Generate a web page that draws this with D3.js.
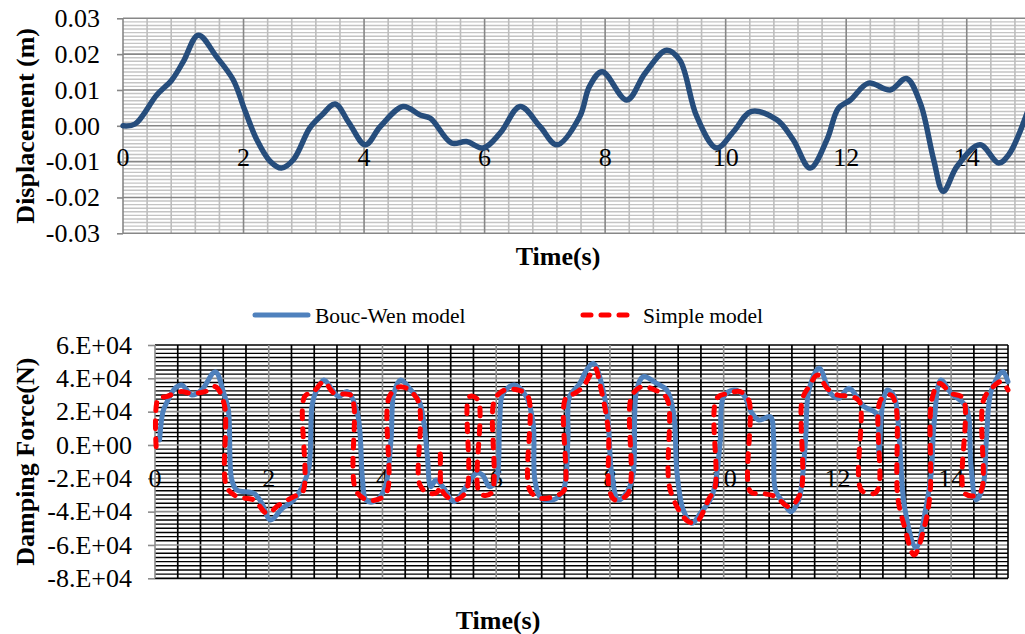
<!DOCTYPE html>
<html>
<head>
<meta charset="utf-8">
<script src="https://cdn.jsdelivr.net/npm/d3@7"></script>
<style>
  body { margin: 0; background: #fff; }
  svg { display: block; }
  svg text { font-family: 'Liberation Serif', 'Times New Roman', serif; }
</style>
</head>
<body>
<div id="graphic"></div>
<script>
'use strict';

// displacement record (s, m)
const dispTime = [0, 0.2, 0.56, 0.81, 1.0, 1.25, 1.55, 1.83, 2.02, 2.22, 2.44, 2.63, 2.83, 3.1, 3.3, 3.52, 3.75, 4.02, 4.27, 4.65, 4.93, 5.1, 5.45, 5.7, 5.98, 6.26, 6.59, 6.92, 7.2, 7.58, 7.74, 7.95, 8.36, 8.66, 9.02, 9.24, 9.52, 9.85, 10.13, 10.43, 10.85, 11.12, 11.4, 11.68, 11.87, 12.07, 12.37, 12.73, 13.0, 13.23, 13.45, 13.61, 13.84, 14.22, 14.53, 14.7, 15.0];
const dispValue = [0, 0.0005, 0.0086, 0.0128, 0.0179, 0.0253, 0.0193, 0.0128, 0.0044, -0.0039, -0.0099, -0.0118, -0.0094, -0.0006, 0.003, 0.0061, 0.0008, -0.0053, -0.0002, 0.0054, 0.003, 0.0021, -0.0048, -0.0044, -0.0062, -0.002, 0.0054, -0.0002, -0.0053, 0.0026, 0.011, 0.0151, 0.0072, 0.0146, 0.0211, 0.0183, 0.0026, -0.0062, -0.0016, 0.004, 0.0017, -0.0039, -0.0118, -0.0039, 0.0049, 0.0072, 0.0119, 0.01, 0.0132, 0.0063, -0.0094, -0.0183, -0.0113, -0.0053, -0.0104, -0.008, 0.0035];

// damping force, Bouc-Wen model (s, N)
const boucWenTime = [0.08, 0.14, 0.2, 0.35, 0.47, 0.65, 0.82, 1.06, 1.21, 1.29, 1.35, 1.44, 1.74, 1.88, 2.03, 2.24, 2.44, 2.62, 2.71, 2.76, 2.82, 2.97, 3.12, 3.23, 3.38, 3.56, 3.65, 3.71, 3.85, 4.03, 4.15, 4.2, 4.32, 4.5, 4.65, 4.73, 4.79, 4.85, 4.94, 5.06, 5.26, 5.47, 5.65, 5.76, 5.88, 6.0, 6.06, 6.12, 6.32, 6.53, 6.65, 6.68, 6.79, 7.0, 7.18, 7.26, 7.29, 7.47, 7.59, 7.71, 7.88, 7.97, 8.03, 8.15, 8.32, 8.41, 8.47, 8.59, 8.82, 9.0, 9.12, 9.18, 9.29, 9.44, 9.59, 9.79, 9.88, 9.94, 10.0, 10.18, 10.35, 10.5, 10.62, 10.82, 10.88, 10.91, 11.06, 11.18, 11.32, 11.38, 11.44, 11.5, 11.68, 11.88, 12.03, 12.2, 12.47, 12.68, 12.73, 12.79, 12.88, 13.0, 13.09, 13.18, 13.38, 13.56, 13.65, 13.7, 13.82, 14.0, 14.26, 14.35, 14.44, 14.56, 14.62, 14.71, 14.91, 15.0];
const boucWenForce = [0.3e4, 2.0e4, 2.5e4, 3.4e4, 3.6e4, 3.0e4, 3.3e4, 4.4e4, 3.1e4, 2.1e4, -2.1e4, -2.7e4, -2.9e4, -3.5e4, -4.5e4, -3.8e4, -3.3e4, -2.3e4, -1.3e4, 2.3e4, 3.1e4, 3.9e4, 3.3e4, 2.9e4, 3.2e4, 1.9e4, -2.1e4, -3.3e4, -3.4e4, -2.7e4, 0.3e4, 3.1e4, 3.9e4, 3.3e4, 2.6e4, 1.3e4, -0.7e4, -2.5e4, -2.1e4, -2.5e4, -3.4e4, -2.5e4, -1.7e4, -1.8e4, -2.5e4, -2.1e4, 1.3e4, 3.1e4, 3.6e4, 2.9e4, 1.3e4, -2.1e4, -3.2e4, -3.3e4, -2.7e4, 0.3e4, 2.9e4, 3.7e4, 4.5e4, 4.9e4, 3.3e4, 1.3e4, -1.7e4, -3.3e4, -2.7e4, -1.7e4, 3.3e4, 4.1e4, 3.7e4, 3.3e4, 1.9e4, -1.7e4, -3.9e4, -4.7e4, -4.1e4, -3.1e4, -1.7e4, 0.3e4, 2.9e4, 3.3e4, 3.0e4, 1.9e4, 1.5e4, 1.7e4, 0.3e4, -2.7e4, -3.5e4, -4.0e4, -3.3e4, -2.1e4, 0.3e4, 3.3e4, 4.6e4, 3.1e4, 2.8e4, 3.4e4, 2.3e4, 1.9e4, -0.6e4, 2.3e4, 3.3e4, 2.9e4, 0.3e4, -3.7e4, -6.2e4, -3.7e4, -1.7e4, 1.3e4, 3.9e4, 3.1e4, 2.3e4, -1.3e4, -3.3e4, -2.5e4, 0.3e4, 3.3e4, 4.4e4, 3.8e4];

// damping force, simple model (s, N)
const simpleTime = [0.02, 0.06, 0.2, 0.44, 0.65, 0.88, 1.06, 1.22, 1.26, 1.44, 1.74, 1.97, 2.18, 2.44, 2.6, 2.63, 2.79, 2.97, 3.15, 3.44, 3.5, 3.53, 3.73, 3.97, 4.09, 4.12, 4.32, 4.62, 4.66, 4.82, 4.97, 5.02, 5.06, 5.26, 5.47, 5.53, 5.68, 5.71, 5.91, 5.97, 6.15, 6.38, 6.56, 6.59, 6.79, 7.09, 7.2, 7.22, 7.38, 7.53, 7.74, 7.82, 7.97, 7.99, 8.09, 8.32, 8.38, 8.56, 8.79, 9.0, 9.06, 9.38, 9.53, 9.73, 9.85, 9.88, 10.09, 10.29, 10.44, 10.47, 10.68, 10.91, 11.15, 11.35, 11.38, 11.5, 11.65, 11.82, 12.0, 12.26, 12.39, 12.42, 12.65, 12.73, 12.76, 12.94, 13.03, 13.06, 13.18, 13.35, 13.53, 13.63, 13.66, 13.79, 14.0, 14.21, 14.24, 14.47, 14.55, 14.57, 14.74, 14.88, 15.0];
const simpleForce = [-0.1e4, 2.8e4, 2.9e4, 3.2e4, 3.1e4, 3.2e4, 3.5e4, 2.4e4, -2.5e4, -3.1e4, -3.3e4, -4.1e4, -3.6e4, -3.1e4, -2.8e4, 2.9e4, 3.2e4, 3.8e4, 3.1e4, 3.0e4, 2.3e4, -2.7e4, -3.3e4, -3.2e4, -2.7e4, 2.9e4, 3.5e4, 2.7e4, -2.4e4, -2.9e4, -2.8e4, -0.3e4, -2.8e4, -3.3e4, -2.8e4, 2.9e4, 2.7e4, -2.9e4, -2.9e4, 2.7e4, 3.3e4, 3.3e4, 2.9e4, -2.7e4, -3.2e4, -3.0e4, -2.7e4, 2.8e4, 3.1e4, 3.5e4, 4.6e4, 3.7e4, 0.9e4, -2.7e4, -3.3e4, -2.9e4, 2.9e4, 3.5e4, 3.3e4, 2.8e4, -2.7e4, -4.6e4, -4.6e4, -3.3e4, -2.5e4, 2.8e4, 3.1e4, 3.2e4, 2.7e4, -2.8e4, -2.9e4, -3.1e4, -3.7e4, -2.9e4, 2.7e4, 3.5e4, 4.2e4, 3.4e4, 3.0e4, 2.9e4, 2.6e4, -2.7e4, -2.9e4, -2.5e4, 2.7e4, 3.0e4, 2.3e4, -3.1e4, -4.9e4, -6.6e4, -4.9e4, -2.9e4, 2.7e4, 3.7e4, 3.1e4, 2.8e4, -2.9e4, -3.0e4, -2.5e4, 2.7e4, 3.5e4, 3.8e4, 3.3e4];

// ticks
const timeTicks = [0, 2, 4, 6, 8, 10, 12, 14];
const dispTicks = [-0.03, -0.02, -0.01, 0, 0.01, 0.02, 0.03];
const forceTicks = [-8e4, -6e4, -4e4, -2e4, 0, 2e4, 4e4, 6e4];
const forceTickLabels = [`-8.E+04`, `-6.E+04`, `-4.E+04`, `-2.E+04`, `0.E+00`, `2.E+04`, `4.E+04`, `6.E+04`];
const seriesNames = [`Bouc-Wen model`, `Simple model`];

(function (d3) {
  const width = 1025;
  const height = 634;

  const svg = d3.select(`#graphic`).append(`svg`).attr(`width`, width).attr(`height`, height);

  const tickFont = 26;
  const titleFont = 26;

  // ---------- top: displacement ----------
  const x0 = d3.scaleLinear().domain([0, 15]).range([123, 1027]);
  const y0 = d3.scaleLinear().domain([-0.03, 0.03]).range([233.3, 18.3]);

  const g0 = svg.append(`g`);

  // minor grid
  g0.append(`g`)
    .attr(`stroke`, `#c4c4c4`)
    .attr(`stroke-width`, 1.4)
    .selectAll(`line.h`)
    .data(d3.range(-30, 31).filter((i) => i % 10 !== 0).map((i) => i / 1000))
    .join(`line`)
    .attr(`x1`, x0(0))
    .attr(`x2`, x0(15))
    .attr(`y1`, (d) => y0(d))
    .attr(`y2`, (d) => y0(d));
  g0.append(`g`)
    .attr(`stroke`, `#bdbdbd`)
    .attr(`stroke-width`, 1.6)
    .selectAll(`line`)
    .data(d3.range(1, 38).filter((i) => i % 5 !== 0).map((i) => i * 0.4))
    .join(`line`)
    .attr(`x1`, (d) => x0(d))
    .attr(`x2`, (d) => x0(d))
    .attr(`y1`, y0(0.03))
    .attr(`y2`, y0(-0.03));

  // major grid
  g0.append(`g`)
    .attr(`stroke`, `#878787`)
    .attr(`stroke-width`, 1.6)
    .selectAll(`line`)
    .data(dispTicks)
    .join(`line`)
    .attr(`x1`, x0(0))
    .attr(`x2`, x0(15))
    .attr(`y1`, (d) => y0(d))
    .attr(`y2`, (d) => y0(d));
  g0.append(`g`)
    .attr(`stroke`, `#878787`)
    .attr(`stroke-width`, 1.6)
    .selectAll(`line`)
    .data(timeTicks)
    .join(`line`)
    .attr(`x1`, (d) => x0(d))
    .attr(`x2`, (d) => x0(d))
    .attr(`y1`, y0(0.03))
    .attr(`y2`, y0(-0.03));

  // y axis
  g0.append(`g`)
    .attr(`transform`, `translate(${x0(0)},0)`)
    .call(d3.axisLeft(y0).tickValues(dispTicks).tickFormat((d) => d.toFixed(2)).tickSize(6).tickPadding(17))
    .call((g) => g.attr(`font-family`, null).attr(`font-size`, tickFont))
    .call((g) => g.select(`.domain`).remove())
    .call((g) => g.selectAll(`line`).attr(`stroke`, `#878787`).attr(`stroke-width`, 1.6))
    .call((g) => g.selectAll(`text`).attr(`fill`, `#000`));

  // x tick labels sit below the zero line
  g0.append(`g`)
    .attr(`font-size`, tickFont)
    .attr(`text-anchor`, `middle`)
    .selectAll(`text`)
    .data(timeTicks)
    .join(`text`)
    .attr(`x`, (d) => x0(d))
    .attr(`y`, y0(0) + 31)
    .attr(`dy`, `0.35em`)
    .text((d) => d);

  g0.append(`path`)
    .datum(dispTime.map((t, i) => [t, dispValue[i]]))
    .attr(`fill`, `none`)
    .attr(`stroke`, `#264d7c`)
    .attr(`stroke-width`, 5.5)
    .attr(`stroke-linejoin`, `round`)
    .attr(`stroke-linecap`, `round`)
    .attr(
      `d`,
      d3
        .line()
        .x((d) => x0(d[0]))
        .y((d) => y0(d[1]))
        .curve(d3.curveCatmullRom.alpha(0.5))
    );

  g0.append(`text`)
    .attr(`transform`, `translate(25,${y0(0)}) rotate(-90)`)
    .attr(`text-anchor`, `middle`)
    .attr(`dy`, `0.35em`)
    .attr(`font-size`, titleFont)
    .attr(`font-weight`, `bold`)
    .text(`Displacement (m)`);

  g0.append(`text`)
    .attr(`x`, 558)
    .attr(`y`, 256)
    .attr(`dy`, `0.35em`)
    .attr(`text-anchor`, `middle`)
    .attr(`font-size`, titleFont)
    .attr(`font-weight`, `bold`)
    .text(`Time(s)`);

  // ---------- bottom: damping force ----------
  const x1 = d3.scaleLinear().domain([0, 15]).range([155, 1008]);
  const y1 = d3.scaleLinear().domain([-8e4, 6e4]).range([578.3, 345]);

  const g1 = svg.append(`g`);

  g1.append(`g`)
    .attr(`stroke`, `#000`)
    .attr(`stroke-width`, 1.4)
    .selectAll(`line`)
    .data(d3.range(-32, 25).filter((i) => i % 8 !== 0).map((i) => i * 2500))
    .join(`line`)
    .attr(`x1`, x1(0))
    .attr(`x2`, x1(15))
    .attr(`y1`, (d) => y1(d))
    .attr(`y2`, (d) => y1(d));
  g1.append(`g`)
    .attr(`stroke`, `#000`)
    .attr(`stroke-width`, 1.7)
    .selectAll(`line`)
    .data(d3.range(1, 38).filter((i) => i % 5 !== 0).map((i) => i * 0.4))
    .join(`line`)
    .attr(`x1`, (d) => x1(d))
    .attr(`x2`, (d) => x1(d))
    .attr(`y1`, y1(6e4))
    .attr(`y2`, y1(-8e4));

  g1.append(`g`)
    .attr(`stroke`, `#8c8c8c`)
    .attr(`stroke-width`, 1.6)
    .selectAll(`line`)
    .data(forceTicks.filter((d) => d !== 6e4 && d !== -8e4))
    .join(`line`)
    .attr(`x1`, x1(0))
    .attr(`x2`, x1(15))
    .attr(`y1`, (d) => y1(d))
    .attr(`y2`, (d) => y1(d));
  g1.append(`g`)
    .attr(`stroke`, `#000`)
    .attr(`stroke-width`, 1.7)
    .selectAll(`line`)
    .data([6e4, -8e4])
    .join(`line`)
    .attr(`x1`, x1(0))
    .attr(`x2`, x1(15))
    .attr(`y1`, (d) => y1(d))
    .attr(`y2`, (d) => y1(d));
  g1.append(`g`)
    .attr(`stroke-width`, 1.6)
    .selectAll(`line`)
    .data(timeTicks.concat([15]))
    .join(`line`)
    .attr(`stroke`, (d) => (d === 15 ? `#000` : `#8c8c8c`))
    .attr(`x1`, (d) => x1(d))
    .attr(`x2`, (d) => x1(d))
    .attr(`y1`, y1(6e4))
    .attr(`y2`, y1(-8e4));

  g1.append(`g`)
    .attr(`transform`, `translate(${x1(0)},0)`)
    .call(
      d3
        .axisLeft(y1)
        .tickValues(forceTicks)
        .tickFormat((d, i) => forceTickLabels[i])
        .tickSize(7)
        .tickPadding(16)
    )
    .call((g) => g.attr(`font-family`, null).attr(`font-size`, tickFont))
    .call((g) => g.select(`.domain`).remove())
    .call((g) => g.selectAll(`line`).attr(`stroke`, `#8c8c8c`).attr(`stroke-width`, 1.6))
    .call((g) => g.selectAll(`text`).attr(`fill`, `#000`));

  g1.append(`g`)
    .attr(`font-size`, tickFont)
    .attr(`text-anchor`, `middle`)
    .selectAll(`text`)
    .data(timeTicks)
    .join(`text`)
    .attr(`x`, (d) => x1(d))
    .attr(`y`, y1(0) + 33)
    .attr(`dy`, `0.35em`)
    .text((d) => d);

  const forceLine = d3
    .line()
    .x((d) => x1(d[0]))
    .y((d) => y1(d[1]))
    .curve(d3.curveCatmullRom.alpha(0.5));

  g1.append(`path`)
    .datum(boucWenTime.map((t, i) => [t, boucWenForce[i]]))
    .attr(`fill`, `none`)
    .attr(`stroke`, `#4f81bd`)
    .attr(`stroke-width`, 5)
    .attr(`stroke-linejoin`, `round`)
    .attr(`stroke-linecap`, `round`)
    .attr(`d`, forceLine);

  g1.append(`path`)
    .datum(simpleTime.map((t, i) => [t, simpleForce[i]]))
    .attr(`fill`, `none`)
    .attr(`stroke`, `#ff0000`)
    .attr(`stroke-width`, 5)
    .attr(`stroke-dasharray`, `8,10`)
    .attr(`stroke-linejoin`, `round`)
    .attr(`stroke-linecap`, `round`)
    .attr(`d`, forceLine);

  g1.append(`text`)
    .attr(`transform`, `translate(25,${y1(-1e4)}) rotate(-90)`)
    .attr(`text-anchor`, `middle`)
    .attr(`dy`, `0.35em`)
    .attr(`font-size`, titleFont)
    .attr(`font-weight`, `bold`)
    .text(`Damping Force(N)`);

  g1.append(`text`)
    .attr(`x`, 498)
    .attr(`y`, 620)
    .attr(`dy`, `0.35em`)
    .attr(`text-anchor`, `middle`)
    .attr(`font-size`, titleFont)
    .attr(`font-weight`, `bold`)
    .text(`Time(s)`);

  // legend
  const legend = svg.append(`g`).attr(`font-size`, 21.5);
  const legendItems = [
    { name: seriesNames[0], x: 255, color: `#4f81bd`, dash: null },
    { name: seriesNames[1], x: 583, color: `#ff0000`, dash: `8,10` }
  ];
  legendItems.forEach((item) => {
    legend
      .append(`line`)
      .attr(`x1`, item.x)
      .attr(`x2`, item.x + 53)
      .attr(`y1`, 315)
      .attr(`y2`, 315)
      .attr(`stroke`, item.color)
      .attr(`stroke-width`, 5)
      .attr(`stroke-linecap`, `round`)
      .attr(`stroke-dasharray`, item.dash);
    legend
      .append(`text`)
      .attr(`x`, item.x + 60)
      .attr(`y`, 315)
      .attr(`dy`, `0.35em`)
      .text(item.name);
  });
})(d3);
</script>
</body>
</html>
